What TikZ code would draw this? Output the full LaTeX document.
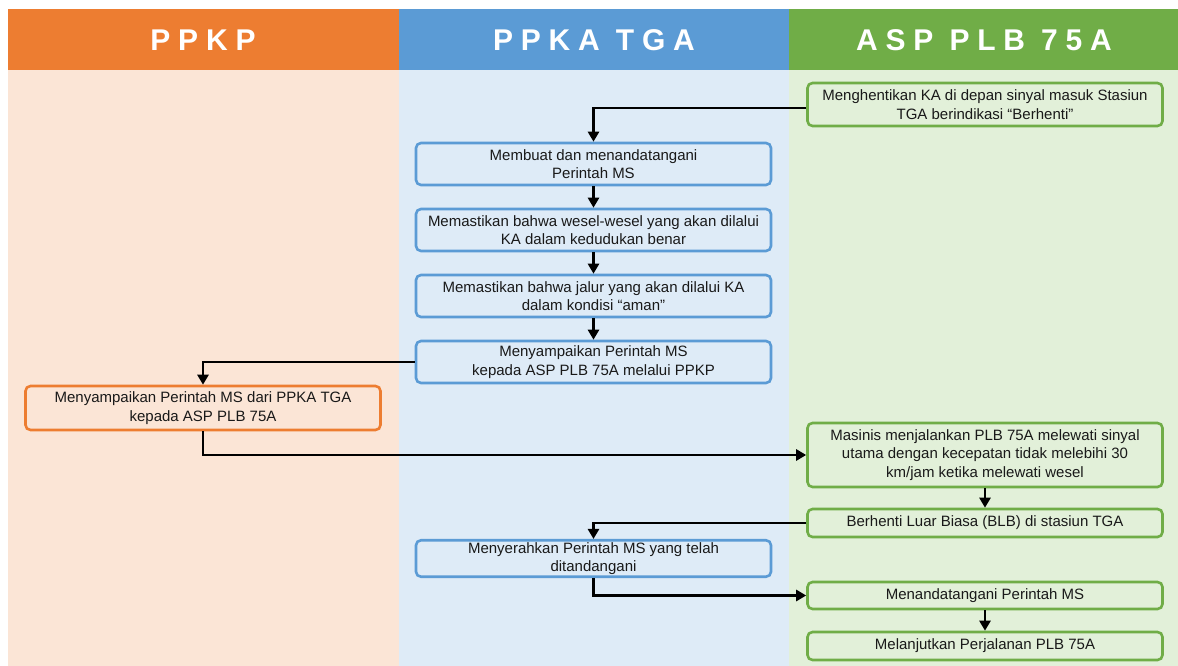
\documentclass[tikz,border=0pt]{standalone}
\usepackage{fontspec}
\setmainfont{Liberation Sans}
\newfontfamily\headfont[LetterSpace=26]{Liberation Sans}
\usetikzlibrary{arrows.meta}

\definecolor{orangehead}{HTML}{ED7D31}
\definecolor{orangebg}{HTML}{FBE5D6}
\definecolor{bluehead}{HTML}{5B9BD5}
\definecolor{bluebg}{HTML}{DEEBF7}
\definecolor{greenhead}{HTML}{70AD47}
\definecolor{greenbg}{HTML}{E2F0D9}

\begin{document}
\begin{tikzpicture}[x=1pt, y=-1pt, node distance = {66pt},
	head/.style = {text=white, font=\headfont\bfseries\fontsize{30}{30}\selectfont},
	box/.style = {draw, rounded corners=5pt, line width=2.6pt, minimum width=355pt, inner sep=2pt, align=center, text=black!90, font=\fontsize{15}{18.5}\selectfont},
	pbox/.style = {box, draw=orangehead, fill=orangebg, minimum height=44pt},
	kbox/.style = {box, draw=bluehead, fill=bluebg, minimum height=42pt},
	abox/.style = {box, draw=greenhead, fill=greenbg, minimum height=28pt},
	flow/.style = {line width=2.8pt, -{Triangle[length=10pt, width=11pt]}}]
	% lanes
	\useasboundingbox (0,0) rectangle (1178,666);
	\fill[orangebg] (8,70) rectangle (399,666);
	\fill[bluebg] (399,70) rectangle (789,666);
	\fill[greenbg] (789,70) rectangle (1178,666);
	\fill[orangehead] (8,9) rectangle (399,70);
	\fill[bluehead] (399,9) rectangle (789,70);
	\fill[greenhead] (789,9) rectangle (1178,70);
	\node[head] (h1) at (203,40) {PPKP};
	\node[head] (h2) at (594,40) {PPKA TGA};
	\node[head] (h3) at (984,40) {ASP PLB 75A};
	% steps
	\node[abox, minimum height=43pt] (a1) at (985,104.5) {Menghentikan KA di depan sinyal masuk Stasiun\\TGA berindikasi “Berhenti”};
	\node[kbox] (k1) at (593.5,164) {Membuat dan menandatangani\\Perintah MS};
	\node[kbox] (k2) [below of=k1] {Memastikan bahwa wesel-wesel yang akan dilalui\\KA dalam kedudukan benar};
	\node[kbox] (k3) [below of=k2] {Memastikan bahwa jalur yang akan dilalui KA\\dalam kondisi “aman”};
	\node[kbox] (k4) [below of=k3] {Menyampaikan Perintah MS\\kepada ASP PLB 75A melalui PPKP};
	\node[pbox] (p1) at (203,408) {Menyampaikan Perintah MS dari PPKA TGA\\kepada ASP PLB 75A};
	\node[abox, minimum height=64pt] (a2) at (985,455) {Masinis menjalankan PLB 75A melewati sinyal\\utama dengan kecepatan tidak melebihi 30\\km/jam ketika melewati wesel};
	\node[abox] (a3) at (985,523) {Berhenti Luar Biasa (BLB) di stasiun TGA};
	\node[kbox, minimum height=35pt] (k5) at (593.5,558.5) {Menyerahkan Perintah MS yang telah\\ditandangani};
	\node[abox, minimum height=27pt] (a4) at (985,595.5) {Menandatangani Perintah MS};
	\node[abox] (a5) at (985,646) {Melanjutkan Perjalanan PLB 75A};
	% arrows
	\draw[flow] ([yshift=-3.5pt]a1.west) -| (k1.north);
	\draw[flow] (k1) -- (k2);
	\draw[flow] (k2) -- (k3);
	\draw[flow] (k3) -- (k4);
	\draw[flow] (k4.west) -| (p1.north);
	\draw[flow] (p1.south) |- (a2.west);
	\draw[flow] (a2) -- (a3);
	\draw[flow] (a3.west) -| (k5.north);
	\draw[flow] (k5.south) |- (a4.west);
	\draw[flow] (a4) -- (a5);
\end{tikzpicture}
\end{document}
